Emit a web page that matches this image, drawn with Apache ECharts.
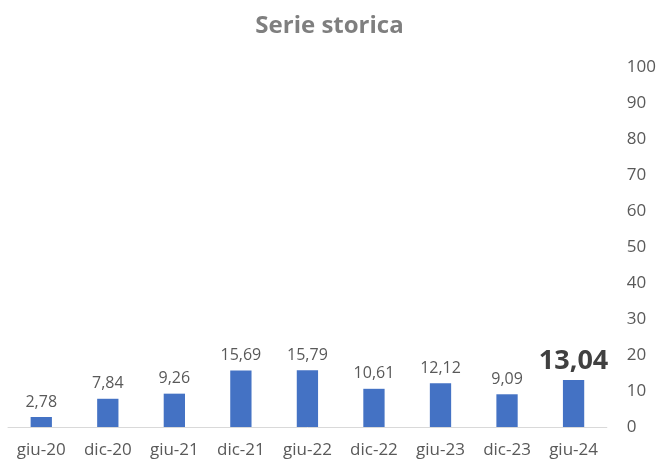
<!DOCTYPE html>
<html><head><meta charset="utf-8">
<script src="https://cdn.jsdelivr.net/npm/echarts@6/dist/echarts.min.js"></script>
<style>html,body{margin:0;padding:0;background:#fff}#c{width:659px;height:462px}</style>
</head><body><div id="c"></div>
<script>
const categories = ["giu-20","dic-20","giu-21","dic-21","giu-22","dic-22","giu-23","dic-23","giu-24"];
const values = [2.78, 7.84, 9.26, 15.69, 15.79, 10.61, 12.12, 9.09, 13.04];
const yTicks = [0,10,20,30,40,50,60,70,80,90,100];
const titleText = "Serie storica";

const FONT = "Open Sans";
const fmt = v => v.toFixed(2).replace('.', ',');
const lastIdx = values.length - 1;
const chart = echarts.init(document.getElementById('c'));
chart.setOption({
  animation:false,
  title:{text:titleText,left:'center',top:9,textStyle:{fontFamily:FONT,fontSize:24,fontWeight:'bold',color:'#7f7f7f'}},
  grid:{left:8,right:45,top:67,bottom:35,containLabel:false},
  xAxis:{type:'category',data:categories,
    axisLine:{lineStyle:{color:'#d9d9d9',width:1}},axisTick:{show:false},
    axisLabel:{fontFamily:FONT,fontSize:17,color:'#595959',margin:15}},
  yAxis:{type:'value',position:'right',min:yTicks[0],max:yTicks[yTicks.length-1],interval:10,
    splitLine:{show:false},axisLine:{show:false},axisTick:{show:false},
    axisLabel:{fontFamily:FONT,fontSize:17,color:'#595959',margin:20,align:'left'}},
  series:[{type:'bar',barWidth:'32%',
    data:values.map((v,i)=>({value:v,
      label: i===lastIdx ? {fontSize:27,fontWeight:'bold',color:'#404040',distance:5} : undefined})),
    itemStyle:{color:'#4472c4'},
    label:{show:true,position:'top',distance:7,fontFamily:FONT,fontSize:16,color:'#595959',
      formatter:p=>fmt(p.value)}}]
});
</script></body></html>
